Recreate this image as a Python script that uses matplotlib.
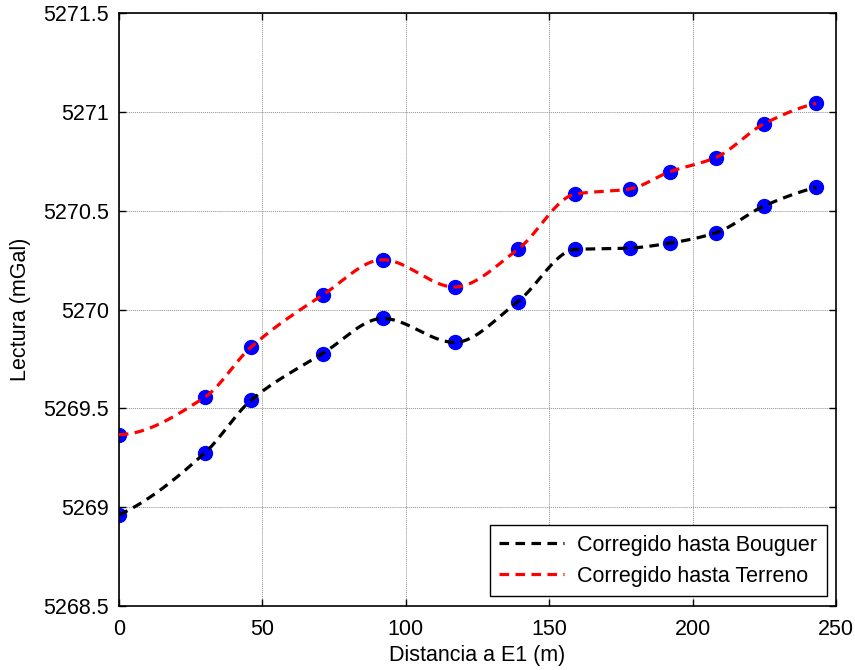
import numpy as np
import matplotlib
matplotlib.use("Agg")
import matplotlib.pyplot as plt
from matplotlib.lines import Line2D

distance = [0, 30, 46, 71, 92, 117, 139, 159, 178, 192, 208, 225, 243]
bouguer = [5268.961, 5269.275, 5269.540, 5269.777, 5269.955, 5269.834, 5270.040,
           5270.304, 5270.311, 5270.336, 5270.388, 5270.525, 5270.618]
terreno = [5269.367, 5269.557, 5269.809, 5270.073, 5270.252, 5270.114, 5270.304,
           5270.584, 5270.610, 5270.697, 5270.769, 5270.941, 5271.043]
xticks = [0, 50, 100, 150, 200, 250]
yticks = [5268.5, 5269, 5269.5, 5270, 5270.5, 5271, 5271.5]
ytick_labels = ["5268.5", "5269", "5269.5", "5270", "5270.5", "5271", "5271.5"]


def pchip(x, y, xq):
    x = np.asarray(x, float); y = np.asarray(y, float)
    h = np.diff(x); d = np.diff(y) / h
    n = len(x); m = np.zeros(n)
    for k in range(1, n - 1):
        if d[k - 1] * d[k] > 0:
            w1 = 2 * h[k] + h[k - 1]; w2 = h[k] + 2 * h[k - 1]
            m[k] = (w1 + w2) / (w1 / d[k - 1] + w2 / d[k])
    def end(h0, h1, d0, d1):
        s = ((2 * h0 + h1) * d0 - h0 * d1) / (h0 + h1)
        if np.sign(s) != np.sign(d0):
            s = 0.0
        elif np.sign(d0) != np.sign(d1) and abs(s) > abs(3 * d0):
            s = 3 * d0
        return s
    m[0] = end(h[0], h[1], d[0], d[1])
    m[-1] = end(h[-1], h[-2], d[-1], d[-2])
    idx = np.clip(np.searchsorted(x, xq) - 1, 0, n - 2)
    t = (xq - x[idx]) / h[idx]
    h00 = 2 * t**3 - 3 * t**2 + 1; h10 = t**3 - 2 * t**2 + t
    h01 = -2 * t**3 + 3 * t**2; h11 = t**3 - t**2
    return h00 * y[idx] + h10 * h[idx] * m[idx] + h01 * y[idx + 1] + h11 * h[idx] * m[idx + 1]


plt.rcParams['font.family'] = ['Liberation Sans', 'DejaVu Sans']
fs = 15.5
fig = plt.figure(figsize=(8.55, 6.7), dpi=100)
ax = fig.add_axes([0.139, 0.0955, 0.839, 0.885])

xq = np.linspace(distance[0], distance[-1], 600)
ax.plot(xq, pchip(distance, bouguer, xq), color='black', linestyle=(0, (3, 2)), lw=2.3, zorder=3)
ax.plot(xq, pchip(distance, terreno, xq), color='red', linestyle=(0, (3, 2)), lw=2.3, zorder=3)
ax.plot(distance, bouguer, 'o', color='blue', ms=10, mec='blue', zorder=2)
ax.plot(distance, terreno, 'o', color='blue', ms=10, mec='blue', zorder=2)

ax.set_xlim(0, 250)
ax.set_ylim(5268.5, 5271.5)
ax.set_xticks(xticks)
ax.set_yticks(yticks)
ax.set_yticklabels(ytick_labels)
ax.tick_params(direction='in', top=True, right=True, labelsize=fs, length=5, width=1)
ax.tick_params(axis='x', pad=9)
ax.tick_params(axis='y', pad=7)
ax.grid(True, color='#909090', linestyle=(0, (1, 1)), lw=0.7)
for s in ax.spines.values():
    s.set_linewidth(1.2)
ax.set_xlabel("Distancia a E1 (m)", fontsize=fs, labelpad=4)
ax.set_ylabel("Lectura (mGal)", fontsize=fs, labelpad=9)

handles = [Line2D([], [], color='black', linestyle=(0, (3, 2)), lw=2.3),
           Line2D([], [], color='red', linestyle=(0, (3, 2)), lw=2.3)]
leg = ax.legend(handles, ["Corregido hasta Bouguer", "Corregido hasta Terreno"],
                loc='lower right', fontsize=fs, fancybox=False, framealpha=1,
                edgecolor='black', handlelength=3, handletextpad=0.6,
                borderpad=0.45, labelspacing=0.45, borderaxespad=0.45)
leg.get_frame().set_linewidth(1.0)

fig.savefig("out.png", dpi=100)
